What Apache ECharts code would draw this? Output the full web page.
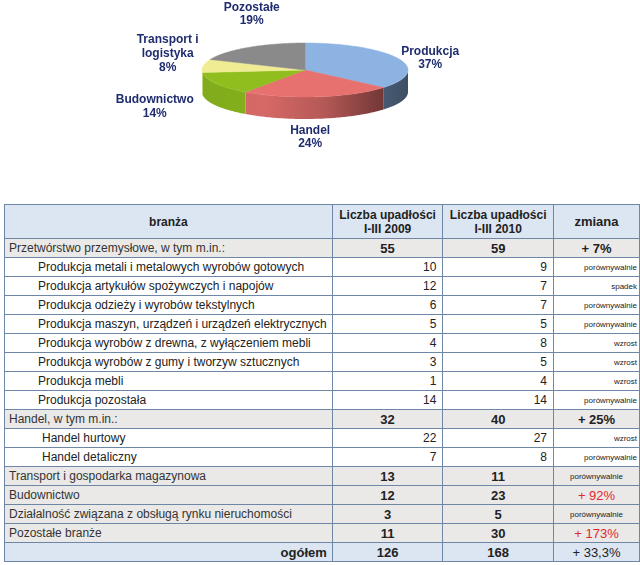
<!DOCTYPE html>
<html>
<head>
<meta charset="utf-8">
<script src="https://cdn.jsdelivr.net/npm/echarts@6/dist/echarts.min.js"></script>
<style>
html,body{margin:0;padding:0;background:#fff;width:640px;height:565px;overflow:hidden;}
#chart{position:absolute;left:0;top:0;width:640px;height:200px;}
#tbl{position:absolute;left:4px;top:204px;border-collapse:collapse;table-layout:fixed;
  font-family:"Liberation Sans",Arial,sans-serif;color:#222;border:1px solid #24395A;}
#tbl td,#tbl th{border:1px solid #6F87A6;padding:0 5px;font-size:12px;white-space:nowrap;overflow:hidden;}
#tbl tr{height:19px;}
#tbl tr.head{height:34px;background:#DCE6F2;}
#tbl th{font-weight:bold;line-height:14px;text-align:center;}
#tbl tr.group{background:#EAE9E8;}
#tbl tr.total{background:#DCE6F2;}
#tbl td.name0{padding-left:4px;color:#333;}
#tbl td.name1{padding-left:33px;}
#tbl td.name2{padding-left:37px;}
#tbl td.nameT{text-align:right;font-weight:bold;font-size:13px;}
#tbl td.numC{text-align:center;font-weight:bold;font-size:13px;}
#tbl td.numR{text-align:right;padding-right:6px;}
#tbl td.chSmallC{text-align:center;font-size:8px;}
#tbl td.chSmallR{text-align:right;font-size:8px;padding-right:2px;}
#tbl td.chBig{text-align:center;font-weight:bold;font-size:13px;}
#tbl td.chRed{text-align:center;font-size:13px;color:#E0282C;}
#tbl td.chPlain{text-align:center;font-size:13px;}
</style>
</head>
<body>
<div id="chart"></div>
<table id="tbl"></table>
<script>
// ---------- pie data ----------
const sliceNames = ['Produkcja', 'Handel', 'Budownictwo', 'Transport i\nlogistyka', 'Pozostałe'];
const slicePercents = [37, 24, 14, 8, 19];

// ---------- table data ----------
const headers = ['branża', 'Liczba upadłości\nI-III 2009', 'Liczba upadłości\nI-III 2010', 'zmiana'];
const branches = [
  'Przetwórstwo przemysłowe, w tym m.in.:',
  'Produkcja metali i metalowych wyrobów gotowych',
  'Produkcja artykułów spożywczych i napojów',
  'Produkcja odzieży i wyrobów tekstylnych',
  'Produkcja maszyn, urządzeń i urządzeń elektrycznych',
  'Produkcja wyrobów z drewna, z wyłączeniem mebli',
  'Produkcja wyrobów z gumy i tworzyw sztucznych',
  'Produkcja mebli',
  'Produkcja pozostała',
  'Handel, w tym m.in.:',
  'Handel hurtowy',
  'Handel detaliczny',
  'Transport i gospodarka magazynowa',
  'Budownictwo',
  'Działalność związana z obsługą rynku nieruchomości',
  'Pozostałe branże',
  'ogółem'
];
const count2009 = [55, 10, 12, 6, 5, 4, 3, 1, 14, 32, 22, 7, 13, 12, 3, 11, 126];
const count2010 = [59, 9, 7, 7, 5, 8, 5, 4, 14, 40, 27, 8, 11, 23, 5, 30, 168];
const changes = ['+ 7%', 'porównywalnie', 'spadek', 'porównywalnie', 'porównywalnie', 'wzrost', 'wzrost',
  'wzrost', 'porównywalnie', '+ 25%', 'wzrost', 'porównywalnie', 'porównywalnie', '+ 92%',
  'porównywalnie', '+ 173%', '+ 33,3%'];

// ---------- styles / layout (not data) ----------
const rowKinds = ['group', 'sub', 'sub', 'sub', 'sub', 'sub', 'sub', 'sub', 'sub', 'group', 'sub2', 'sub2',
  'group', 'group', 'group', 'group', 'total'];
const redChangeRows = [13, 15];
const colWidths = [322, 111, 111, 89];
const sliceColors = ['#8DB3E2', '#E6716E', '#8FBE1E', '#F0EC94', '#8A8A8A'];
const labelColor = '#1F2D6E';
const pieLayout = {cx: 305, cy: 70, rx: 103, ry: 27, depth: 22, lx: 140, ly: 45};
const labelNudge = [[-2, 7], [-12, 1], [-29, 3], [1, -9], [24, -18]];
const labelLineHeights = [13, 13, 14, 14, 13];

// ---------- build table ----------
(function buildTable() {
  const tbl = document.getElementById('tbl');
  const cg = document.createElement('colgroup');
  colWidths.forEach(w => { const c = document.createElement('col'); c.style.width = w + 'px'; cg.appendChild(c); });
  tbl.appendChild(cg);
  const hr = document.createElement('tr');
  hr.className = 'head';
  headers.forEach((h, j) => {
    const th = document.createElement('th');
    th.innerHTML = h.replace('\n', '<br>');
    if (j === 3) th.style.fontSize = '13px';
    hr.appendChild(th);
  });
  tbl.appendChild(hr);
  branches.forEach((b, i) => {
    const kind = rowKinds[i];
    const tr = document.createElement('tr');
    tr.className = kind;
    const tdN = document.createElement('td');
    tdN.textContent = b;
    tdN.className = kind === 'group' ? 'name0' : kind === 'sub' ? 'name1' : kind === 'sub2' ? 'name2' : 'nameT';
    tr.appendChild(tdN);
    [count2009[i], count2010[i]].forEach(v => {
      const td = document.createElement('td');
      td.textContent = v;
      td.className = (kind === 'group' || kind === 'total') ? 'numC' : 'numR';
      tr.appendChild(td);
    });
    const tdC = document.createElement('td');
    const ch = changes[i];
    tdC.textContent = ch;
    if (ch.charAt(0) === '+') {
      tdC.className = redChangeRows.indexOf(i) >= 0 ? 'chRed' : (kind === 'total' ? 'chPlain' : 'chBig');
    } else {
      tdC.className = kind === 'group' ? 'chSmallC' : 'chSmallR';
    }
    tr.appendChild(tdC);
    tbl.appendChild(tr);
  });
})();

// ---------- 3D pie via custom series ----------
const total = slicePercents.reduce((a, b) => a + b, 0);
const startAngles = [], endAngles = [];
(function () {
  let acc = 0;
  slicePercents.forEach(v => {
    startAngles.push(acc / total * 360);
    acc += v;
    endAngles.push(acc / total * 360);
  });
})();

function shade(hex, f) {
  const n = parseInt(hex.slice(1), 16);
  const r = Math.round(((n >> 16) & 255) * f), g = Math.round(((n >> 8) & 255) * f), b = Math.round((n & 255) * f);
  return 'rgb(' + r + ',' + g + ',' + b + ')';
}
function pt(deg, off) {
  const t = deg * Math.PI / 180;
  return [pieLayout.cx + pieLayout.rx * Math.sin(t), pieLayout.cy - pieLayout.ry * Math.cos(t) + off];
}
function arc(a, b, off) {
  const pts = [];
  const n = Math.max(2, Math.ceil(Math.abs(b - a)));
  for (let k = 0; k <= n; k++) pts.push(pt(a + (b - a) * k / n, off));
  return pts;
}

function renderItem(params, api) {
  const i = params.dataIndex;
  const a1 = startAngles[i], a2 = endAngles[i];
  const color = sliceColors[i];
  const L = pieLayout;
  const children = [];
  const s = Math.max(a1, 90), e = Math.min(a2, 270);
  if (e > s) {
    const pts = arc(s, e, 0).concat(arc(e, s, L.depth));
    children.push({
      type: 'polygon',
      shape: {points: pts},
      style: {
        fill: {
          type: 'linear', x: L.cx - L.rx, y: 0, x2: L.cx + L.rx, y2: 0, global: true,
          colorStops: [
            {offset: 0, color: shade(color, 0.9)},
            {offset: 0.3, color: shade(color, 0.93)},
            {offset: 0.6, color: shade(color, 0.78)},
            {offset: 0.85, color: shade(color, 0.52)},
            {offset: 1, color: shade(color, 0.44)}
          ]
        },
        stroke: null
      }
    });
  }
  const topPts = [[L.cx, L.cy]].concat(arc(a1, a2, 0));
  children.push({
    type: 'polygon',
    shape: {points: topPts},
    style: {fill: color, stroke: color, lineWidth: 0.5}
  });
  const mid = (a1 + a2) / 2 * Math.PI / 180;
  const sn = Math.sin(mid), cs = Math.cos(mid);
  const lx = L.cx + sn * L.lx + labelNudge[i][0];
  const ly = L.cy - cs * L.ly + (cs < 0 ? -cs * L.depth : 0) + labelNudge[i][1];
  children.push({
    type: 'text',
    z2: 10,
    style: {
      text: sliceNames[i] + '\n' + api.value(0) + '%',
      x: lx, y: ly,
      align: 'center', verticalAlign: 'middle',
      fill: labelColor,
      font: 'bold 12px "Liberation Sans", Arial, sans-serif',
      lineHeight: labelLineHeights[i]
    }
  });
  return {type: 'group', children: children};
}

const chart = echarts.init(document.getElementById('chart'), null, {renderer: 'canvas'});
chart.setOption({
  animation: false,
  backgroundColor: '#fff',
  series: [{
    type: 'custom',
    coordinateSystem: 'none',
    renderItem: renderItem,
    data: slicePercents.map(v => [v])
  }]
});
</script>
</body>
</html>
